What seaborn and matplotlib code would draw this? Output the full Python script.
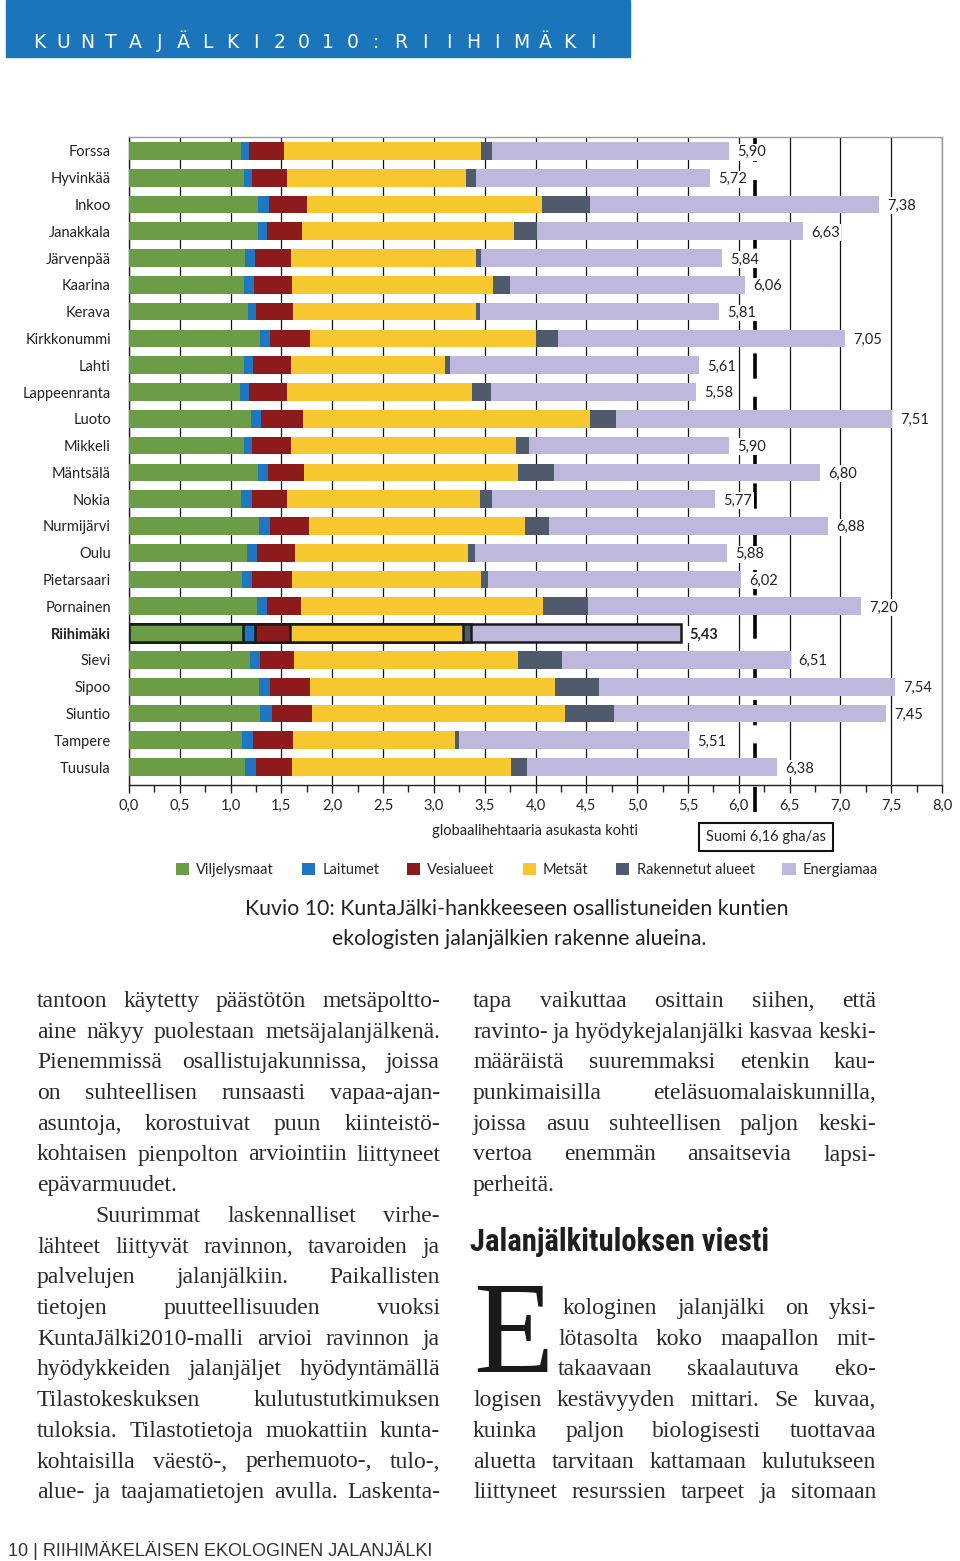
import numpy as np
import pandas as pd
import matplotlib
matplotlib.use("Agg")
import matplotlib.pyplot as plt
import seaborn as sns
from matplotlib.patches import Patch, Rectangle
from matplotlib import font_manager

# municipalities (top to bottom) and their footprint components, gha per resident
kunnat = ["Forssa", "Hyvinkää", "Inkoo", "Janakkala", "Järvenpää", "Kaarina", "Kerava",
          "Kirkkonummi", "Lahti", "Lappeenranta", "Luoto", "Mikkeli", "Mäntsälä", "Nokia",
          "Nurmijärvi", "Oulu", "Pietarsaari", "Pornainen", "Riihimäki", "Sievi", "Sipoo",
          "Siuntio", "Tampere", "Tuusula"]
viljelysmaat = [1.10, 1.13, 1.27, 1.27, 1.14, 1.13, 1.17, 1.29, 1.13, 1.09, 1.20, 1.13,
                1.27, 1.10, 1.28, 1.16, 1.11, 1.26, 1.12, 1.19, 1.28, 1.29, 1.11, 1.14]
laitumet = [0.08, 0.08, 0.11, 0.09, 0.10, 0.10, 0.08, 0.10, 0.09, 0.09, 0.10, 0.08,
            0.10, 0.11, 0.11, 0.10, 0.10, 0.10, 0.12, 0.10, 0.11, 0.12, 0.11, 0.11]
vesialueet = [0.35, 0.34, 0.37, 0.34, 0.35, 0.37, 0.36, 0.39, 0.37, 0.37, 0.41, 0.38,
              0.35, 0.34, 0.38, 0.37, 0.39, 0.33, 0.34, 0.33, 0.39, 0.39, 0.39, 0.35]
metsat = [1.93, 1.77, 2.31, 2.09, 1.82, 1.98, 1.80, 2.22, 1.52, 1.83, 2.83, 2.22,
          2.11, 1.90, 2.13, 1.71, 1.86, 2.38, 1.71, 2.21, 2.41, 2.49, 1.60, 2.16]
rakennetut = [0.11, 0.09, 0.48, 0.22, 0.05, 0.17, 0.04, 0.22, 0.05, 0.18, 0.25, 0.13,
              0.35, 0.12, 0.23, 0.06, 0.07, 0.45, 0.08, 0.43, 0.43, 0.48, 0.04, 0.16]
energiamaa = [2.33, 2.31, 2.84, 2.62, 2.38, 2.31, 2.36, 2.83, 2.45, 2.02, 2.72, 1.96,
              2.62, 2.20, 2.75, 2.48, 2.49, 2.68, 2.06, 2.25, 2.92, 2.68, 2.26, 2.46]
yhteensa = [5.90, 5.72, 7.38, 6.63, 5.84, 6.06, 5.81, 7.05, 5.61, 5.58, 7.51, 5.90,
            6.80, 5.77, 6.88, 5.88, 6.02, 7.20, 5.43, 6.51, 7.54, 7.45, 5.51, 6.38]
suomi = 6.16
korostettu = "Riihimäki"

osat = ["Viljelysmaat", "Laitumet", "Vesialueet", "Metsät", "Rakennetut alueet", "Energiamaa"]
varit = ["#6b9c46", "#1f77c4", "#8e1b1b", "#f6c72f", "#4f5a6c", "#bdb8dc"]

W, H = 960, 1561
def fx(px):
    return px / W
def fy(py):
    return 1 - py / H

sns.set_theme(style="white")
plt.rcParams["font.family"] = ["Lato", "DejaVu Sans"]

fig = plt.figure(figsize=(W / 100, H / 100), dpi=100)
fig.patch.set_facecolor("white")

# header band
fig.patches.append(Rectangle((fx(6), fy(57)), 624 / W, 57 / H, transform=fig.transFigure,
                             color="#1b75bb", zorder=0))
for i, ch in enumerate("KUNTAJÄLKI2010:RIIHIMÄKI"):
    fig.text(fx(39 + 24.1 * i), fy(43), ch, ha="center", va="center", color="white",
             fontsize=13.5, family=["DejaVu Sans"])

# ---- chart ----
ax = fig.add_axes([fx(129), fy(785), (942 - 129) / W, (785 - 137) / H])
df = pd.DataFrame({"Kunta": kunnat, "Viljelysmaat": viljelysmaat, "Laitumet": laitumet,
                   "Vesialueet": vesialueet, "Metsät": metsat,
                   "Rakennetut alueet": rakennetut, "Energiamaa": energiamaa})
kum = df[osat].cumsum(axis=1)
for osa, vari in reversed(list(zip(osat, varit))):
    sns.barplot(x=kum[osa], y=df["Kunta"], orient="h", color=vari, saturation=1,
                width=0.66, errorbar=None, linewidth=0, ax=ax, zorder=3)

ri = kunnat.index(korostettu)
for p in ax.patches:
    if abs(p.get_y() + p.get_height() / 2 - ri) < 0.1:
        p.set_edgecolor("#1a1a1a")
        p.set_linewidth(1.8)

for i, tot in enumerate(yhteensa):
    ax.text(tot + 0.08, i + 0.05, f"{tot:.2f}".replace(".", ","), va="center", ha="left",
            fontsize=10.5, color="#222222", zorder=5,
            fontweight="bold" if kunnat[i] == korostettu else "normal",
            bbox=dict(boxstyle="square,pad=0.1", fc="white", ec="none"))

ax.axvline(suomi, ymin=-0.042, ymax=1, color="black", lw=2.6, ls=(0, (7, 5)),
           zorder=2, clip_on=False)

ax.set_xlim(0, 8)
ax.set_ylim(23.67, -0.52)
xt = np.arange(0, 8.01, 0.5)
ax.set_xticks(xt)
ax.set_xticklabels([f"{v:.1f}".replace(".", ",") for v in xt])
ax.set_xticks(np.arange(0.25, 8, 0.5), minor=True)
ax.tick_params(axis="x", which="major", bottom=True, length=6, width=1, pad=4,
               labelsize=10.5, colors="#222222")
ax.tick_params(axis="x", which="minor", bottom=True, length=5, width=1, color="#222222")
ax.tick_params(axis="y", length=0, pad=13, labelsize=10.5, labelcolor="#222222")
for lbl in ax.get_yticklabels():
    if lbl.get_text() == korostettu:
        lbl.set_fontweight("bold")
ax.grid(axis="x", which="major", color="#111111", linewidth=0.9)
ax.set_axisbelow(True)
for s in ["left", "bottom"]:
    ax.spines[s].set_color("#222222")
    ax.spines[s].set_linewidth(1)
for s in ["top", "right"]:
    ax.spines[s].set_color("#9a9a9a")
    ax.spines[s].set_linewidth(1)
ax.set_ylabel("")
ax.set_xlabel("globaalihehtaaria asukasta kohti", fontsize=10.5, labelpad=8, color="#222222")

fig.text(fx(766), fy(837), "Suomi 6,16 gha/as", ha="center", va="center", fontsize=10.5,
         color="#222222",
         bbox=dict(boxstyle="square,pad=0.5", fc="white", ec="#111111", lw=1.5))

handles = [Patch(facecolor=c, edgecolor="none") for c in varit]
fig.legend(handles, osat, loc="center", bbox_to_anchor=(fx(527), fy(870)), ncol=6,
           frameon=False, fontsize=10.5, handlelength=0.9, handleheight=0.9,
           handletextpad=0.5, columnspacing=1.9)

fig.text(fx(517), fy(909), "Kuvio 10: KuntaJälki-hankkeeseen osallistuneiden kuntien",
         ha="center", va="center", fontsize=15.3, color="#222222")
fig.text(fx(519), fy(939), "ekologisten jalanjälkien rakenne alueina.",
         ha="center", va="center", fontsize=15.3, color="#222222")

# ---- body text, two justified columns ----
renderer = fig.canvas.get_renderer()
serif = dict(family=["Liberation Serif", "DejaVu Serif"], fontsize=17, color="#2a2a2a")

def width_of(t):
    return t.get_window_extent(renderer=renderer).width

probe1 = fig.text(0, 0, "x x", **serif)
probe2 = fig.text(0, 0, "xx", **serif)
space = width_of(probe1) - width_of(probe2)
probe1.remove()
probe2.remove()

def rivi(teksti, x0, x1, k, tasaa):
    y = fy(1007 + 30.7 * k)
    sanat = teksti.split(" ")
    tt = [fig.text(0, y, s, va="baseline", ha="left", **serif) for s in sanat]
    ww = [width_of(t) for t in tt]
    if tasaa and len(sanat) > 1:
        gap = max((x1 - x0 - sum(ww)) / (len(sanat) - 1), 0.6 * space)
    else:
        gap = space
    x = x0
    for t, w in zip(tt, ww):
        t.set_x(fx(x))
        x += w + gap

vasen = [
    ("tantoon käytetty päästötön metsäpoltto-", 37, True),
    ("aine näkyy puolestaan metsäjalanjälkenä.", 37, True),
    ("Pienemmissä osallistujakunnissa, joissa", 37, True),
    ("on suhteellisen runsaasti vapaa-ajan-", 37, True),
    ("asuntoja, korostuivat puun kiinteistö-", 37, True),
    ("kohtaisen pienpolton arviointiin liittyneet", 37, True),
    ("epävarmuudet.", 37, False),
    ("Suurimmat laskennalliset virhe-", 95, True),
    ("lähteet liittyvät ravinnon, tavaroiden ja", 37, True),
    ("palvelujen jalanjälkiin. Paikallisten", 37, True),
    ("tietojen puutteellisuuden vuoksi", 37, True),
    ("KuntaJälki2010-malli arvioi ravinnon ja", 37, True),
    ("hyödykkeiden jalanjäljet hyödyntämällä", 37, True),
    ("Tilastokeskuksen kulutustutkimuksen", 37, True),
    ("tuloksia. Tilastotietoja muokattiin kunta-", 37, True),
    ("kohtaisilla väestö-, perhemuoto-, tulo-,", 37, True),
    ("alue- ja taajamatietojen avulla. Laskenta-", 37, True),
]
for k, (t, x0, j) in enumerate(vasen):
    rivi(t, x0, 440, k, j)

oikea = [
    ("tapa vaikuttaa osittain siihen, että", 473, 0, True),
    ("ravinto- ja hyödykejalanjälki kasvaa keski-", 473, 1, True),
    ("määräistä suuremmaksi etenkin kau-", 473, 2, True),
    ("punkimaisilla eteläsuomalaiskunnilla,", 473, 3, True),
    ("joissa asuu suhteellisen paljon keski-", 473, 4, True),
    ("vertoa enemmän ansaitsevia lapsi-", 473, 5, True),
    ("perheitä.", 473, 6, False),
    ("kologinen jalanjälki on yksi-", 563, 10, True),
    ("lötasolta koko maapallon mit-", 558, 11, True),
    ("takaavaan skaalautuva eko-", 558, 12, True),
    ("logisen kestävyyden mittari. Se kuvaa,", 473, 13, True),
    ("kuinka paljon biologisesti tuottavaa", 473, 14, True),
    ("aluetta tarvitaan kattamaan kulutukseen", 473, 15, True),
    ("liittyneet resurssien tarpeet ja sitomaan", 473, 16, True),
]
for t, x0, k, j in oikea:
    rivi(t, x0, 876, k, j)

fig.text(fx(473), fy(1372), "E", va="baseline", ha="left", fontsize=95,
         family=["Liberation Serif", "DejaVu Serif"], color="#1a1a1a")

# heading in a narrow bold face, fitted to the original width
nimet = {f.name for f in font_manager.fontManager.ttflist}
kapea = dict(fontweight="bold", color="#1e1e1e")
if "Liberation Sans Narrow" in nimet:
    kapea["family"] = ["Liberation Sans Narrow"]
elif "Roboto Condensed" in nimet:
    kapea["family"] = ["Roboto Condensed"]
elif "DejaVu Sans Condensed" in nimet:
    kapea["family"] = ["DejaVu Sans Condensed"]
else:
    kapea["family"] = ["DejaVu Sans"]
    kapea["fontstretch"] = "condensed"
otsikko = fig.text(fx(470), fy(1251), "Jalanjälkituloksen viesti", va="baseline",
                   ha="left", fontsize=26, **kapea)
otsikko.set_fontsize(26 * 300 / width_of(otsikko))

fig.text(fx(8), fy(1551), "10 | RIIHIMÄKELÄISEN EKOLOGINEN JALANJÄLKI", va="center",
         ha="left", fontsize=13, color="#333333", family=["Liberation Sans", "DejaVu Sans"])

fig.savefig("out.png", dpi=100)
